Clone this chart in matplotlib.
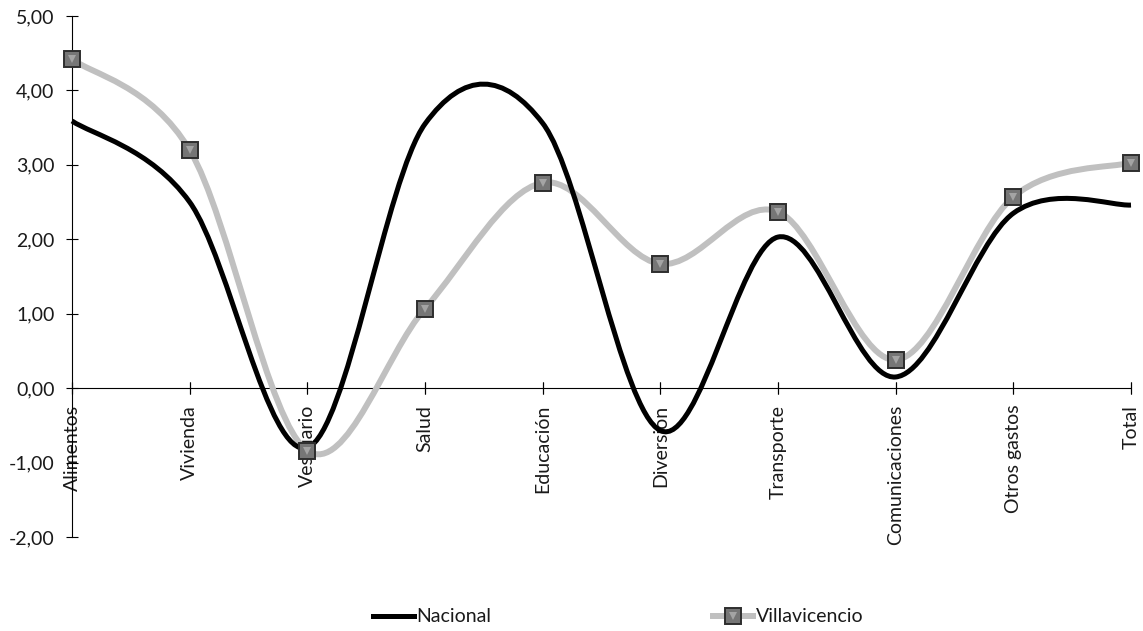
import matplotlib
matplotlib.use('Agg')
import matplotlib.pyplot as plt
from matplotlib.path import Path
from matplotlib.patches import PathPatch
from matplotlib.lines import Line2D
from matplotlib.legend_handler import HandlerTuple
from matplotlib.ticker import FuncFormatter, FixedLocator
import numpy as np

categories = ["Alimentos", "Vivienda", "Vestuario", "Salud", "Educación",
              "Diversión", "Transporte", "Comunicaciones", "Otros gastos", "Total"]
nacional = [3.59, 2.50, -0.80, 3.55, 3.56, -0.57, 2.03, 0.15, 2.35, 2.46]
villavicencio = [4.42, 3.20, -0.84, 1.07, 2.76, 1.67, 2.37, 0.38, 2.57, 3.03]
y_ticks = [-2, -1, 0, 1, 2, 3, 4, 5]

plt.rcParams['font.family'] = ['Lato', 'DejaVu Sans']
FS = 14
TXT = '#1a1a1a'


def smooth_path(x, y):
    pts = np.column_stack([x, y]).astype(float)
    n = len(pts)
    verts = [pts[0]]
    codes = [Path.MOVETO]
    for i in range(n - 1):
        p0 = pts[i - 1] if i > 0 else pts[i]
        p1 = pts[i]
        p2 = pts[i + 1]
        p3 = pts[i + 2] if i + 2 < n else pts[i + 1]
        c1 = p1 + (p2 - p0) / 6.0
        c2 = p2 - (p3 - p1) / 6.0
        verts += [c1, c2, p2]
        codes += [Path.CURVE4] * 3
    return Path(verts, codes)


fig = plt.figure(figsize=(11.43, 6.31), dpi=100)
ax = fig.add_axes([72 / 1143, (631 - 537) / 631, (1131 - 72) / 1143, (537 - 16) / 631])

x = np.arange(len(categories))
gray = '#c0c0c0'
mk_outer = dict(marker='s', markersize=12, markerfacecolor='#767676',
                markeredgecolor='#2e2e2e', markeredgewidth=1.4)
mk_inner = dict(marker='v', markersize=6, markerfacecolor='#a4a4a4',
                markeredgewidth=0)

ax.add_patch(PathPatch(smooth_path(x, villavicencio), fill=False, edgecolor=gray,
                       lw=4.3, capstyle='butt', joinstyle='round', zorder=3, clip_on=False))
ax.add_patch(PathPatch(smooth_path(x, nacional), fill=False, edgecolor='black',
                       lw=3.6, capstyle='butt', joinstyle='round', zorder=4, clip_on=False))
ax.plot(x, villavicencio, linestyle='none', zorder=5, clip_on=False, **mk_outer)
ax.plot(x, villavicencio, linestyle='none', zorder=6, clip_on=False, **mk_inner)

ax.set_xlim(0, 9)
ax.set_ylim(-2, 5)

for s in ['top', 'right', 'bottom']:
    ax.spines[s].set_visible(False)
ax.spines['left'].set_linewidth(0.8)
ax.axhline(0, color='black', lw=0.8, zorder=2)

ax.yaxis.set_major_locator(FixedLocator(y_ticks))
ax.yaxis.set_major_formatter(FuncFormatter(lambda v, p: f"{v:.2f}".replace('.', ',')))
ax.tick_params(axis='y', direction='inout', length=9, width=0.8, labelsize=FS, pad=8,
               labelcolor=TXT)

ax.set_xticks([])
for xi, lab in zip(x, categories):
    ax.plot([xi, xi], [0, 0], marker='|', markersize=9, color='black',
            markeredgewidth=0.8, zorder=2, clip_on=False)
    ax.annotate(lab, xy=(xi, 0), xycoords='data', xytext=(0, -12),
                textcoords='offset points', rotation=90, ha='center', va='top',
                fontsize=FS, color=TXT, zorder=1)

h_nac = Line2D([], [], color='black', lw=3.6)
h_vil_line = Line2D([], [], color=gray, lw=4.3)
h_vil_out = Line2D([], [], linestyle='none', **mk_outer)
h_vil_in = Line2D([], [], linestyle='none', **mk_inner)
leg = fig.legend([h_nac, (h_vil_line, h_vil_out, h_vil_in)], ['Nacional', 'Villavicencio'],
                 handler_map={tuple: HandlerTuple(ndivide=1, pad=0)},
                 loc='center', ncol=2,
                 bbox_to_anchor=(618 / 1143, (631 - 617) / 631), frameon=False,
                 fontsize=FS, handlelength=2.1, handletextpad=0.12, columnspacing=11.4)
for t in leg.get_texts():
    t.set_color(TXT)

fig.savefig('out.png', dpi=100, facecolor='white')
